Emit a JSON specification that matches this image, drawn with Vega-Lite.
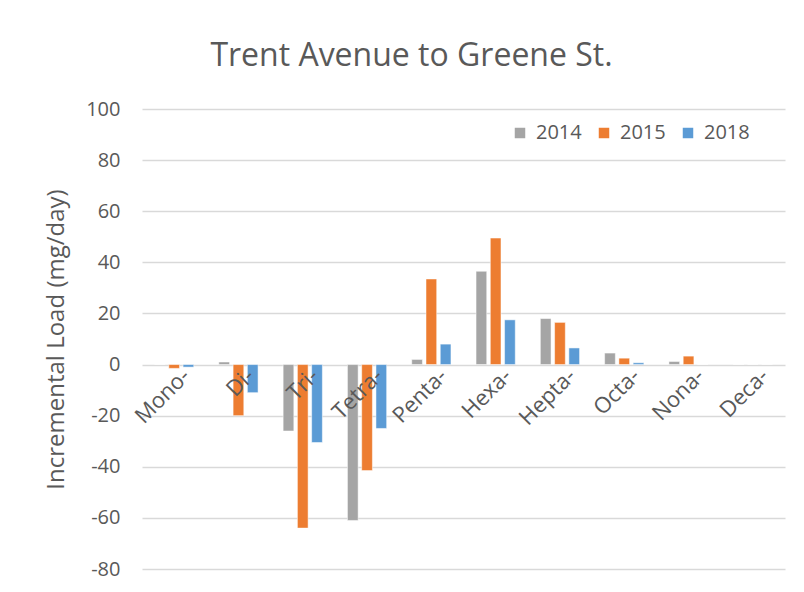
{
  "$schema": "https://vega.github.io/schema/vega-lite/v6.json",
  "width": 643,
  "height": 460,
  "autosize": "none",
  "padding": {"left": 142, "top": 109, "right": 19, "bottom": 23},
  "background": "white",
  "title": {
    "text": "Trent Avenue to Greene St.",
    "font": "Open Sans",
    "fontSize": 32,
    "fontWeight": "normal",
    "color": "#595959",
    "anchor": "middle",
    "dx": -52,
    "offset": 26
  },
  "data": {
    "values": [
      {"group": "Mono-", "year": "2014", "value": 0},
      {"group": "Mono-", "year": "2015", "value": -1.5},
      {"group": "Mono-", "year": "2018", "value": -1},
      {"group": "Di-", "year": "2014", "value": 1},
      {"group": "Di-", "year": "2015", "value": -20},
      {"group": "Di-", "year": "2018", "value": -11},
      {"group": "Tri-", "year": "2014", "value": -26},
      {"group": "Tri-", "year": "2015", "value": -64},
      {"group": "Tri-", "year": "2018", "value": -30.5},
      {"group": "Tetra-", "year": "2014", "value": -61},
      {"group": "Tetra-", "year": "2015", "value": -41.5},
      {"group": "Tetra-", "year": "2018", "value": -25},
      {"group": "Penta-", "year": "2014", "value": 2},
      {"group": "Penta-", "year": "2015", "value": 33.5},
      {"group": "Penta-", "year": "2018", "value": 8},
      {"group": "Hexa-", "year": "2014", "value": 36.5},
      {"group": "Hexa-", "year": "2015", "value": 49.5},
      {"group": "Hexa-", "year": "2018", "value": 17.5},
      {"group": "Hepta-", "year": "2014", "value": 18},
      {"group": "Hepta-", "year": "2015", "value": 16.5},
      {"group": "Hepta-", "year": "2018", "value": 6.5},
      {"group": "Octa-", "year": "2014", "value": 4.5},
      {"group": "Octa-", "year": "2015", "value": 2.5},
      {"group": "Octa-", "year": "2018", "value": 0.7},
      {"group": "Nona-", "year": "2014", "value": 1.2},
      {"group": "Nona-", "year": "2015", "value": 3.3},
      {"group": "Nona-", "year": "2018", "value": 0},
      {"group": "Deca-", "year": "2014", "value": 0},
      {"group": "Deca-", "year": "2015", "value": 0},
      {"group": "Deca-", "year": "2018", "value": 0}
    ]
  },
  "mark": {"type": "bar", "stroke": "white", "strokeWidth": 0.5},
  "encoding": {
    "x": {
      "field": "group",
      "type": "nominal",
      "sort": null,
      "scale": {"paddingInner": 0.39, "paddingOuter": 0.195},
      "axis": {
        "title": null,
        "labelAngle": -45,
        "labelFont": "Open Sans",
        "labelFontSize": 22,
        "labelColor": "#595959",
        "labelPadding": 0,
        "labelOffset": 5,
        "domain": false,
        "ticks": false,
        "grid": false,
        "offset": -204,
        "zindex": 1
      }
    },
    "xOffset": {"field": "year", "type": "nominal", "scale": {"paddingInner": 0.25}},
    "y": {
      "field": "value",
      "type": "quantitative",
      "scale": {"domain": [-80, 100], "nice": false},
      "axis": {
        "values": [-80, -60, -40, -20, 0, 20, 40, 60, 80, 100],
        "labelExpr": "'' + datum.value",
        "title": "Incremental Load (mg/day)",
        "titleFont": "Open Sans",
        "titleFontSize": 24,
        "titleFontWeight": "normal",
        "titleColor": "#595959",
        "titlePadding": 17,
        "labelFont": "Open Sans",
        "labelFontSize": 20,
        "labelColor": "#595959",
        "labelPadding": 22,
        "domain": false,
        "ticks": false,
        "gridColor": "#d9d9d9",
        "gridWidth": 1.5
      }
    },
    "color": {
      "field": "year",
      "type": "nominal",
      "scale": {"domain": ["2014", "2015", "2018"], "range": ["#A5A5A5", "#ED7D31", "#5B9BD5"]},
      "legend": {
        "title": null,
        "orient": "none",
        "legendX": 368,
        "legendY": 14,
        "direction": "horizontal",
        "symbolType": "square",
        "symbolSize": 110,
        "symbolStrokeWidth": 0,
        "labelFont": "Open Sans",
        "labelFontSize": 20,
        "labelColor": "#595959",
        "columnPadding": 12,
        "labelOffset": 6
      }
    }
  },
  "config": {"view": {"stroke": null}}
}
